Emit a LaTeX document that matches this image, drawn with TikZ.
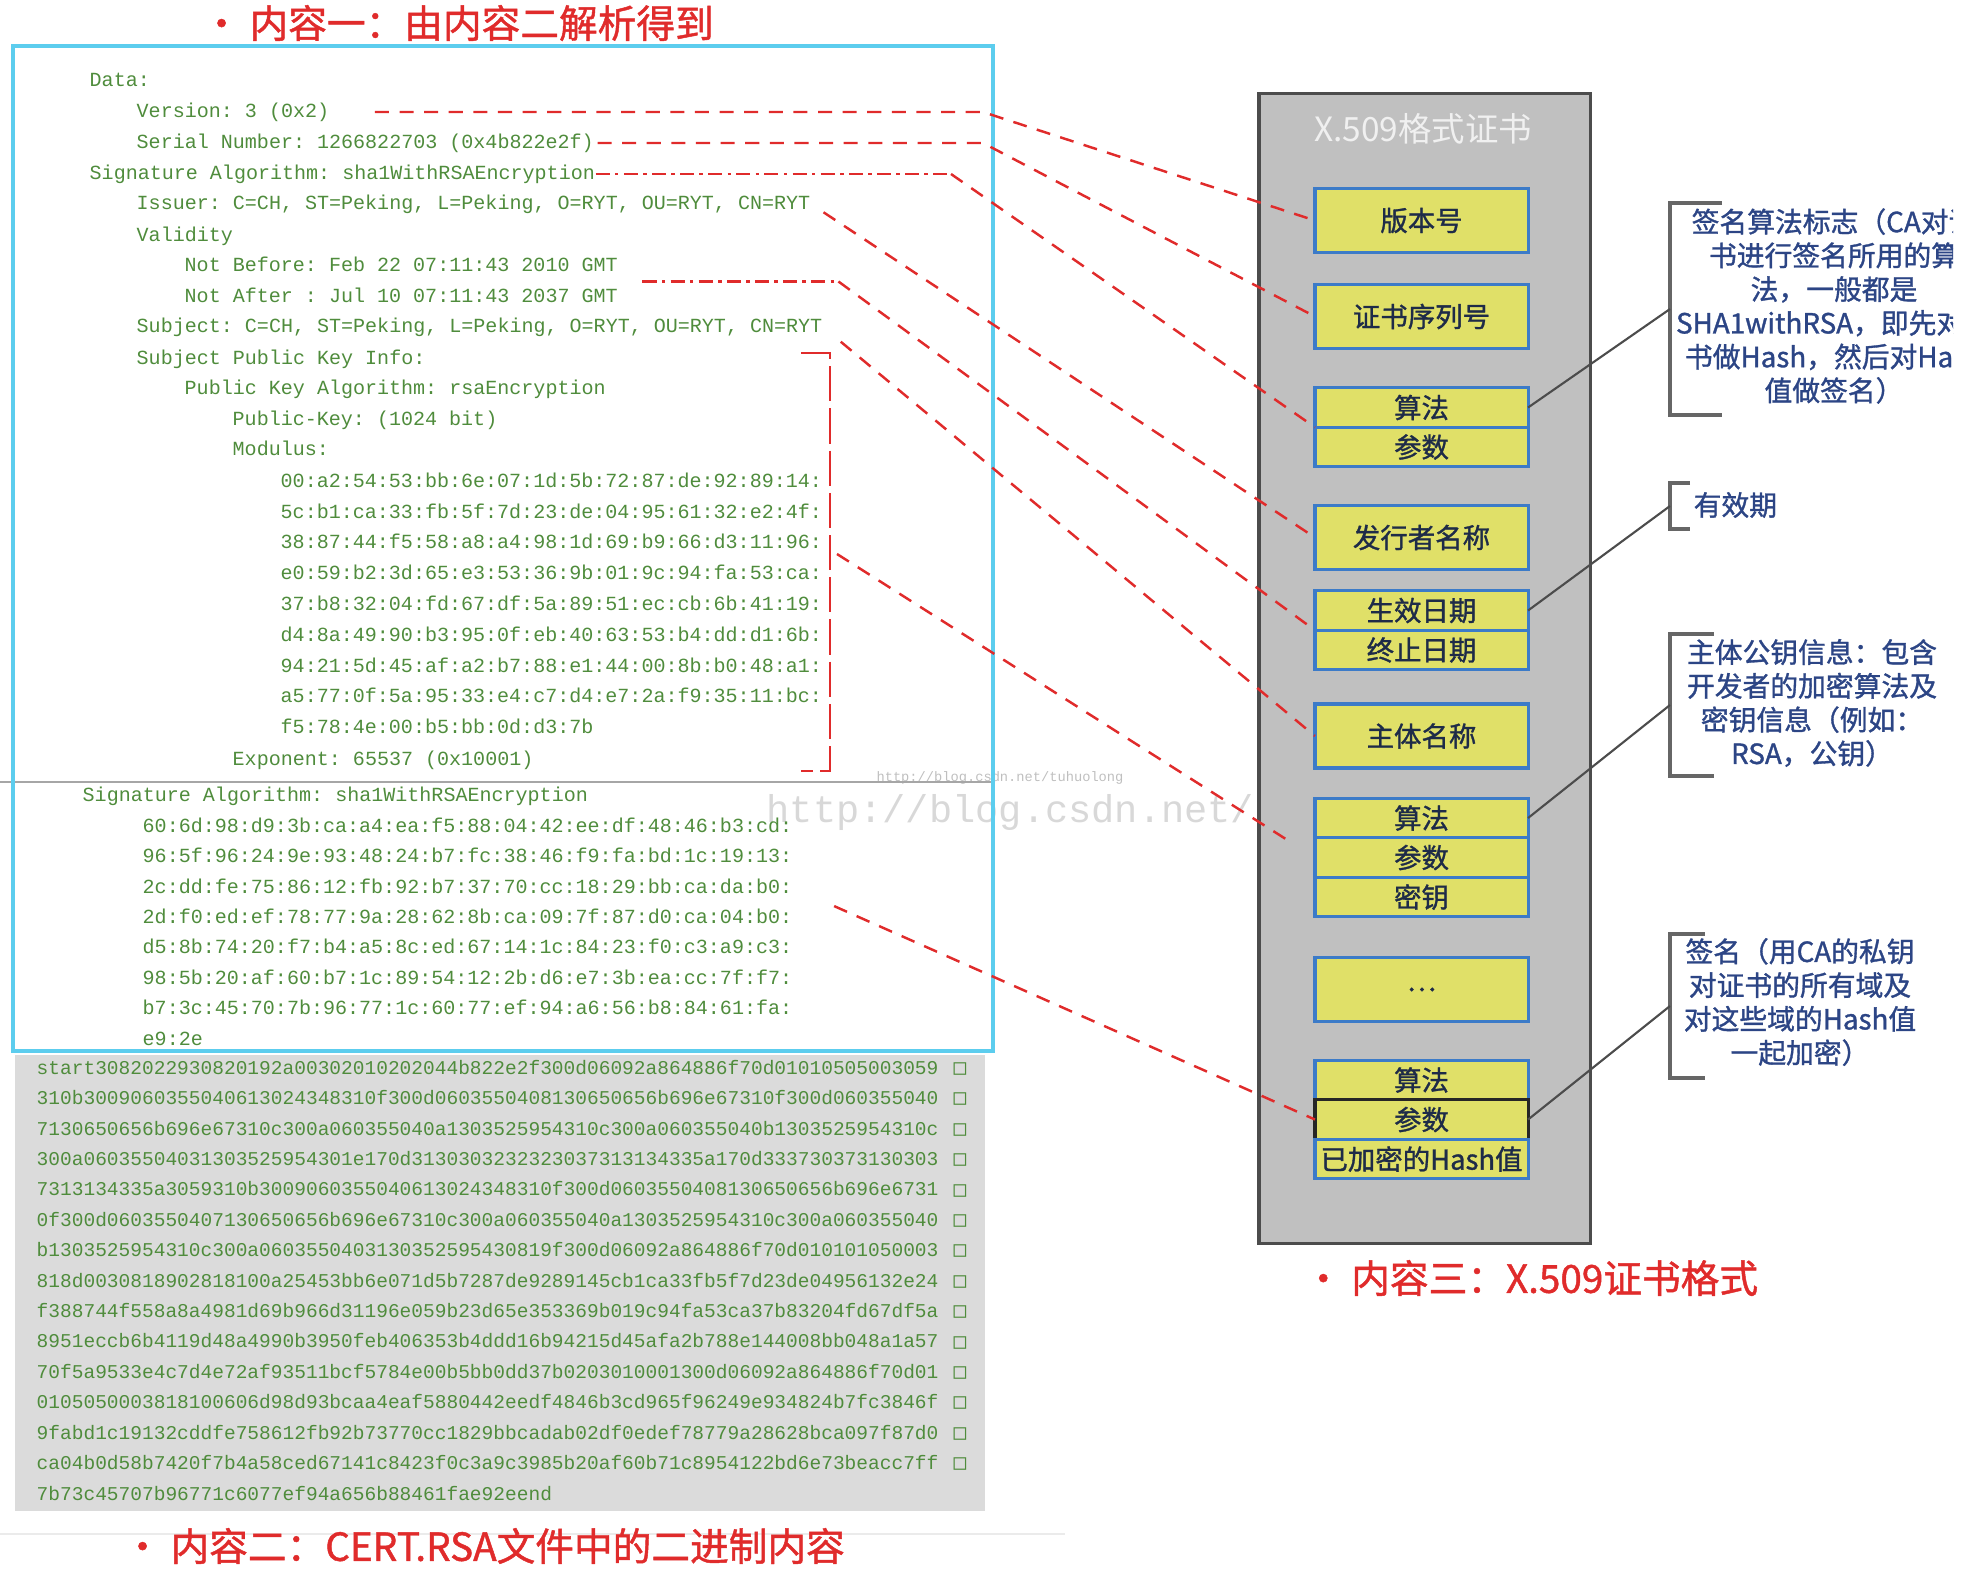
\documentclass[tikz,border=0pt]{standalone}
\usepackage{fontspec}
\setmainfont{Liberation Serif}
\setmonofont{Liberation Mono}
\newfontfamily\cjk{Noto Sans CJK SC}
\newfontfamily\cjkbold[FakeBold=1.2]{Noto Sans CJK SC}
\newfontfamily\tofufont{DejaVu Sans Mono}
\usetikzlibrary{positioning, calc}
\definecolor{mCyan}{HTML}{5CCDEE}
\definecolor{mTxt}{HTML}{4F8C3C}
\definecolor{mRed}{HTML}{E02B2B}
\definecolor{mYellow}{HTML}{E0E068}
\definecolor{mBlue}{HTML}{3C7BC8}
\definecolor{mCert}{HTML}{C0C0C0}
\definecolor{mHex}{HTML}{DBDBDB}
\definecolor{mNavy}{HTML}{2C4585}
\definecolor{mInk}{HTML}{1E2B48}
\definecolor{mMark}{HTML}{D8D8D8}
\tikzset{
  ln/.style={anchor=west, inner sep=0pt, text height=4pt, text depth=1pt,
             text=mTxt, font=\ttfamily\fontsize{5.7}{7}\selectfont},
  hx/.style={ln, font=\ttfamily\fontsize{5.55}{7}\selectfont},
  tofu/.style={inner sep=0pt, text=mTxt, font=\tofufont\fontsize{6}{7}\selectfont},
  certbox/.style={draw=black!70, line width=0.9pt, fill=mCert,
                  minimum width=3.31cm, minimum height=11.49cm},
  fld/.style={draw=mBlue, line width=0.9pt, fill=mYellow, minimum width=2.13cm,
              inner sep=0pt, outer sep=0pt, text=mInk,
              font=\cjkbold\fontsize{7.8}{9}\selectfont},
  fldbig/.style={fld, minimum height=0.64cm},
  fldrow/.style={fld, minimum height=0.395cm},
  link/.style={mRed, line width=0.7pt, dash pattern=on 4pt off 3pt},
  linkdd/.style={mRed, line width=0.7pt, dash pattern=on 4pt off 1.5pt on 1pt off 1.5pt},
  linklong/.style={mRed, line width=0.7pt, dash pattern=on 10pt off 2pt},
  lead/.style={black!70, line width=0.6pt},
  brk/.style={black!60, line width=1.1pt},
  note/.style={align=center, inner sep=0pt, text=mNavy,
               font=\cjkbold\fontsize{7.9}{9.6}\selectfont},
  ttl/.style={inner sep=0pt, text=mRed, font=\cjkbold\fontsize{11}{13}\selectfont},
}
\begin{document}
\begin{tikzpicture}[x=0.01cm, y=-0.01cm]
  \useasboundingbox (0,0) rectangle (1988,1578);
  \clip (0,0) rectangle (1988,1578);

  % binary content of CERT.RSA
  \fill[mHex] (15,1055) rectangle (985,1511);
  \foreach \s [count=\i from 0] in {
      start3082022930820192a00302010202044b822e2f300d06092a864886f70d01010505003059,
      310b3009060355040613024348310f300d0603550408130650656b696e67310f300d060355040,
      7130650656b696e67310c300a060355040a1303525954310c300a060355040b1303525954310c,
      300a06035504031303525954301e170d3130303232323037313134335a170d333730373130303,
      7313134335a3059310b3009060355040613024348310f300d0603550408130650656b696e6731,
      0f300d0603550407130650656b696e67310c300a060355040a1303525954310c300a060355040,
      b1303525954310c300a0603550403130352595430819f300d06092a864886f70d010101050003,
      818d0030818902818100a25453bb6e071d5b7287de9289145cb1ca33fb5f7d23de04956132e24,
      f388744f558a8a4981d69b966d31196e059b23d65e353369b019c94fa53ca37b83204fd67df5a,
      8951eccb6b4119d48a4990b3950feb406353b4ddd16b94215d45afa2b788e144008bb048a1a57,
      70f5a9533e4c7d4e72af93511bcf5784e00b5bb0dd37b0203010001300d06092a864886f70d01,
      0105050003818100606d98d93bcaa4eaf5880442eedf4846b3cd965f96249e934824b7fc3846f,
      9fabd1c19132cddfe758612fb92b73770cc1829bbcadab02df0edef78779a28628bca097f87d0,
      ca04b0d58b7420f7b4a58ced67141c8423f0c3a9c3985b20af60b71c8954122bd6e73beacc7ff}
    {\node[hx] (h\i) at (36,{1069+30.4*\i}) {\s};
     \node[tofu] (t\i) at (960,{1069+30.4*\i}) {□};}
  \node[hx] (h14) at (36,1495) {7b73c45707b96771c6077ef94a656b88461fae92eend};
  \draw[black!8, line width=0.6pt] (0,1534) -- (1065,1534);

  % watermark
  \node[anchor=west, inner sep=0pt, text=mMark, font=\ttfamily\fontsize{11}{13}\selectfont]
    (wm1) at (766,812) {http://blog.csdn.net/};
  \node[inner sep=0pt, text=black!25, font=\ttfamily\fontsize{3.9}{5}\selectfont]
    (wm2) at (1000,778) {http://blog.csdn.net/tuhuolong};

  % X.509 certificate layout
  \node[certbox] (cert) at (1424.5,668.5) {};
  \node[text=white!94!black, font=\cjk\fontsize{9.5}{11}\selectfont] (ctitle) at (1423,129) {X.509格式证书};
  \node[fldbig] (fVer) at (1421.5,220.5) {版本号};
  \node[fldbig] (fSer) at (1421.5,316.5) {证书序列号};
  \node[fldrow] (alg1) at (1421.5,407.5) {算法};
  \node[fldrow, below=0pt of alg1] (par1) {参数};
  \node[fldbig] (fIss) at (1421.5,537.5) {发行者名称};
  \node[fldrow] (nb) at (1421.5,610.5) {生效日期};
  \node[fldrow, below=0pt of nb] (na) {终止日期};
  \node[fldbig] (fSub) at (1421.5,736) {主体名称};
  \node[fldrow] (pkAlg) at (1421.5,818) {算法};
  \node[fldrow, below=0pt of pkAlg] (pkPar) {参数};
  \node[fldrow, below=0pt of pkPar] (pkKey) {密钥};
  \node[fldbig] (fEtc) at (1421.5,989.5) {…};
  \node[fldrow] (sAlg) at (1421.5,1080) {算法};
  \node[fldrow, draw=black!85, below=0pt of sAlg] (sPar) {参数};
  \node[fldrow, below=0pt of sPar] (sHash) {已加密的Hash值};

  % parsed content
  \node[ln] (data) at (89,81) {Data:};
  \node[ln] (ver)  at (136,112) {Version: 3 (0x2)};
  \node[ln] (ser)  at (136,143) {Serial Number: 1266822703 (0x4b822e2f)};
  \node[ln] (sigA) at (89,174) {Signature Algorithm: sha1WithRSAEncryption};
  \node[ln] (iss)  at (136,204) {Issuer: C=CH, ST=Peking, L=Peking, O=RYT, OU=RYT, CN=RYT};
  \node[ln] (vld)  at (136,236) {Validity};
  \node[ln] (nbf)  at (184,266) {Not Before: Feb 22 07:11:43 2010 GMT};
  \node[ln] (naf)  at (184,297) {Not After : Jul 10 07:11:43 2037 GMT};
  \node[ln] (subj) at (136,327) {Subject: C=CH, ST=Peking, L=Peking, O=RYT, OU=RYT, CN=RYT};
  \node[ln] (spki) at (136,359) {Subject Public Key Info:};
  \node[ln] (pka)  at (184,389) {Public Key Algorithm: rsaEncryption};
  \node[ln] (pkey) at (232,420) {Public-Key: (1024 bit)};
  \node[ln] (modl) at (232,450) {Modulus:};
  \foreach \s [count=\i from 0] in {
      00:a2:54:53:bb:6e:07:1d:5b:72:87:de:92:89:14:,
      5c:b1:ca:33:fb:5f:7d:23:de:04:95:61:32:e2:4f:,
      38:87:44:f5:58:a8:a4:98:1d:69:b9:66:d3:11:96:,
      e0:59:b2:3d:65:e3:53:36:9b:01:9c:94:fa:53:ca:,
      37:b8:32:04:fd:67:df:5a:89:51:ec:cb:6b:41:19:,
      d4:8a:49:90:b3:95:0f:eb:40:63:53:b4:dd:d1:6b:,
      94:21:5d:45:af:a2:b7:88:e1:44:00:8b:b0:48:a1:,
      a5:77:0f:5a:95:33:e4:c7:d4:e7:2a:f9:35:11:bc:,
      f5:78:4e:00:b5:bb:0d:d3:7b}
    \node[ln] (m\i) at (280,{482+30.8*\i}) {\s};
  \node[ln] (expo) at (232,760) {Exponent: 65537 (0x10001)};
  \node[ln] (sig2) at (82,796) {Signature Algorithm: sha1WithRSAEncryption};
  \foreach \s [count=\i from 0] in {
      60:6d:98:d9:3b:ca:a4:ea:f5:88:04:42:ee:df:48:46:b3:cd:,
      96:5f:96:24:9e:93:48:24:b7:fc:38:46:f9:fa:bd:1c:19:13:,
      2c:dd:fe:75:86:12:fb:92:b7:37:70:cc:18:29:bb:ca:da:b0:,
      2d:f0:ed:ef:78:77:9a:28:62:8b:ca:09:7f:87:d0:ca:04:b0:,
      d5:8b:74:20:f7:b4:a5:8c:ed:67:14:1c:84:23:f0:c3:a9:c3:,
      98:5b:20:af:60:b7:1c:89:54:12:2b:d6:e7:3b:ea:cc:7f:f7:,
      b7:3c:45:70:7b:96:77:1c:60:77:ef:94:a6:56:b8:84:61:fa:,
      e9:2e}
    \node[ln] (s\i) at (142,{827+30.4*\i}) {\s};
  \draw[black!35, line width=0.8pt] (0,782) -- (993,782);
  \draw[mCyan, line width=1.1pt] (13,46) rectangle (993,1051);

  % red links text -> field
  \draw[link, shorten <=0.45cm] (ver.east) -- (983,112) -- (fVer.west);
  \draw[link, shorten <=0.03cm] (ser.east) -- (983,143) -- (fSer.west);
  \draw[linkdd] (sigA.east) -- (951,174) coordinate (k3);
  \draw[link] (k3) -- (alg1.south west);
  \draw[link, shorten <=0.15cm] (iss.east) -- (fIss.west);
  \coordinate (k5) at ($(nbf.east)!.5!(naf.east)+(24,0)$);
  \draw[linkdd] (k5) -- ++(196,0) coordinate (k5b);
  \draw[link] (k5b) -- (nb.south west);
  \draw[link, shorten <=0.23cm] (subj.east) -- (fSub.west);
  \coordinate (pkT) at (801,353);
  \coordinate (pkB) at (801,771);
  \draw[linklong] (pkT) -- ++(29,0) |- (pkB);
  \coordinate (pkM) at (837,554);
  \draw[link, shorten >=0.25cm] (pkM) -- (pkPar.west);
  \draw[link, shorten <=0.45cm] (s2.east) -- (sPar.west);

  % notes on the right
  \coordinate (b1) at (1670,309);
  \coordinate (b2) at (1670,506);
  \coordinate (b3) at (1670,705);
  \coordinate (b4) at (1670,1006);
  \draw[brk] (1722,203) -| (1670,415) -- (1722,415);
  \draw[brk] (1690,483) -| (1670,529) -- (1690,529);
  \draw[brk] (1714,634) -| (1670,776) -- (1714,776);
  \draw[brk] (1705,934) -| (1670,1078) -- (1705,1078);
  \draw[lead] (alg1.east) -- (b1);
  \draw[lead] (nb.east) -- (b2);
  \draw[lead] (pkAlg.east) -- (b3);
  \draw[lead] (sPar.east) -- (b4);
  \begin{scope}
    \clip (0,0) rectangle (1953,1578);
    \node[note] (n1) at (1834,306) {签名算法标志（CA对证\\书进行签名所用的算\\法，一般都是\\SHA1withRSA，即先对证\\书做Hash，然后对Hash\\值做签名）};
  \end{scope}
  \node[note, anchor=west] (n2) at (1693,505) {有效期};
  \node[note] (n3) at (1812,703) {主体公钥信息：包含\\开发者的加密算法及\\密钥信息（例如：\\RSA，公钥）};
  \node[note] (n4) at (1800,1002) {签名（用CA的私钥\\对证书的所有域及\\对这些域的Hash值\\一起加密）};

  % titles
  \node[ttl] (tOne) at (458,23) {• 内容一：由内容二解析得到};
  \node[ttl] (tTwo) at (484,1546) {• 内容二：CERT.RSA文件中的二进制内容};
  \node[ttl] (tThree) at (1531,1278) {• 内容三：X.509证书格式};
\end{tikzpicture}
\end{document}
